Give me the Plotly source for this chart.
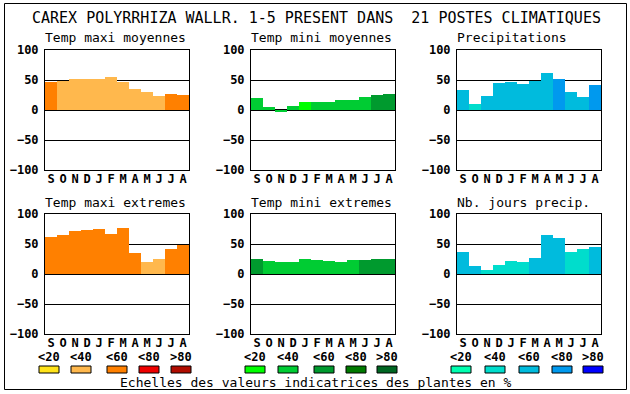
import plotly.graph_objects as go

# ---------------- data ----------------
months = ["S", "O", "N", "D", "J", "F", "M", "A", "M", "J", "J", "A"]
panel_titles = ["Temp maxi moyennes", "Temp mini moyennes", "Precipitations",
                "Temp maxi extremes", "Temp mini extremes", "Nb. jours precip."]
legend_labels = ["<20", "<40", "<60", "<80", ">80"]

orange_scale = ["#FFE31A", "#FFB84D", "#FF8000", "#EE0000", "#B00C00"]
green_scale = ["#00FF00", "#00CC33", "#009A2E", "#007A00", "#006622"]
blue_scale = ["#00FFB0", "#00DDCC", "#00BBDD", "#0099EE", "#0000FF"]

tmax_moy = [47, 48, 52, 52, 52, 55, 47, 35, 30, 23, 27, 25]
tmax_moy_cls = [2, 1, 1, 1, 1, 1, 1, 1, 1, 1, 2, 2]

tmin_moy = [20, 5, -3, 7, 13, 13, 13, 17, 17, 22, 25, 27]
tmin_moy_cls = [1, 1, 1, 1, 0, 1, 1, 1, 1, 1, 2, 2]

precip = [33, 10, 23, 45, 47, 43, 48, 62, 52, 30, 22, 42]
precip_cls = [2, 1, 2, 2, 2, 2, 2, 2, 3, 2, 2, 3]

tmax_ext = [62, 65, 72, 73, 75, 67, 77, 35, 20, 25, 42, 49]
tmax_ext_cls = [2, 2, 2, 2, 2, 2, 2, 2, 1, 1, 2, 2]

tmin_ext = [25, 22, 20, 20, 25, 23, 22, 20, 23, 23, 25, 25]
tmin_ext_cls = [2, 1, 1, 1, 1, 1, 1, 1, 1, 2, 2, 2]

jours = [37, 13, 7, 15, 22, 20, 27, 65, 60, 37, 42, 45]
jours_cls = [2, 2, 1, 1, 1, 1, 2, 2, 2, 1, 1, 2]

series = [
    (tmax_moy, tmax_moy_cls, orange_scale),
    (tmin_moy, tmin_moy_cls, green_scale),
    (precip, precip_cls, blue_scale),
    (tmax_ext, tmax_ext_cls, orange_scale),
    (tmin_ext, tmin_ext_cls, green_scale),
    (jours, jours_cls, blue_scale),
]

# ---------------- layout constants (pixels) ----------------
W, H = 630, 394
col_left = [45, 251, 457]
plot_w = 144
row_top = [50, 214]
plot_h = 120
swatch_left = [[39, 71, 107, 139, 171], [245, 278, 314, 346, 377], [451, 485, 519, 552, 583]]
swatch_w, swatch_top, swatch_h = 20, 366, 7

MONO = "DejaVu Sans Mono"


def px(x):
    return x / W


def py(y):
    return 1 - y / H


fig = go.Figure()
annotations = []
shapes = []

for i, (vals, cls, scale) in enumerate(series):
    r, c = divmod(i, 3)
    n = i + 1
    xa = "x" if n == 1 else f"x{n}"
    ya = "y" if n == 1 else f"y{n}"
    fig.add_trace(go.Bar(
        x=list(range(len(months))), y=vals,
        marker=dict(color=[scale[k] for k in cls], line=dict(width=0)),
        xaxis=xa, yaxis=ya, showlegend=False,
    ))
    x0 = col_left[c]
    y0 = row_top[r]
    fig.update_layout(**{
        ("xaxis" if n == 1 else f"xaxis{n}"): dict(
            domain=[px(x0), px(x0 + plot_w)], anchor=ya,
            range=[-0.5, len(months) - 0.5],
            tickvals=list(range(len(months))), ticktext=months,
            showgrid=False, zeroline=False, showline=True, mirror=True,
            linecolor="black", linewidth=1, ticks="", automargin=False,
            ticklabelstandoff=-2,
            tickfont=dict(family=MONO, size=12, color="black", weight="bold"),
            fixedrange=True,
        ),
        ("yaxis" if n == 1 else f"yaxis{n}"): dict(
            domain=[py(y0 + plot_h), py(y0)], anchor=xa,
            range=[-100, 100], tickvals=[-100, -50, 0, 50, 100],
            showgrid=True, gridcolor="black", gridwidth=1,
            zeroline=True, zerolinecolor="black", zerolinewidth=1.5,
            showline=True, mirror=True, linecolor="black", linewidth=1,
            ticks="", layer="above traces", automargin=False,
            ticklabelstandoff=3,
            tickfont=dict(family=MONO, size=12, color="black", weight="bold"),
            fixedrange=True,
        ),
    })
    annotations.append(dict(
        text=panel_titles[i], xref="paper", yref="paper",
        x=px(x0 - 1), y=py(y0 - 12), xanchor="left", yanchor="middle",
        showarrow=False, borderpad=0, font=dict(family=MONO, size=13, color="black"),
    ))

# title
annotations.append(dict(
    text="CAREX POLYRRHIZA WALLR. 1-5 PRESENT DANS  21 POSTES CLIMATIQUES",
    xref="paper", yref="paper", x=px(316), y=py(18), xanchor="center", yanchor="middle",
    showarrow=False, borderpad=0, font=dict(family=MONO, size=15, color="black"),
))

# legend swatches and labels
for scale, lefts in zip([orange_scale, green_scale, blue_scale], swatch_left):
    for col, lab, xl in zip(scale, legend_labels, lefts):
        shapes.append(dict(
            type="rect", xref="paper", yref="paper",
            x0=px(xl), x1=px(xl + swatch_w), y0=py(swatch_top + swatch_h), y1=py(swatch_top),
            fillcolor=col, line=dict(color="black", width=1),
        ))
        annotations.append(dict(
            text=lab.replace("<", "&lt;").replace(">", "&gt;"),
            xref="paper", yref="paper", x=px(xl + swatch_w / 2), y=py(357),
            xanchor="center", yanchor="middle", showarrow=False, borderpad=0,
            font=dict(family=MONO, size=12, color="black", weight="bold"),
        ))

annotations.append(dict(
    text="Echelles des valeurs indicatrices des plantes en %",
    xref="paper", yref="paper", x=px(316), y=py(382), xanchor="center", yanchor="middle",
    showarrow=False, borderpad=0, font=dict(family=MONO, size=13, color="black"),
))

# outer frame
shapes.append(dict(type="rect", xref="paper", yref="paper",
                   x0=px(4.5), x1=px(626.5), y0=py(389.5), y1=py(3.5),
                   line=dict(color="black", width=1), fillcolor="rgba(0,0,0,0)"))

fig.update_layout(
    width=W, height=H, margin=dict(l=0, r=0, t=0, b=0, autoexpand=False),
    paper_bgcolor="white", plot_bgcolor="white",
    bargap=0, annotations=annotations, shapes=shapes,
)

fig.write_html("out.html", config={"displayModeBar": False},
               post_script="document.body.style.margin='0';document.body.style.overflow='hidden';")
